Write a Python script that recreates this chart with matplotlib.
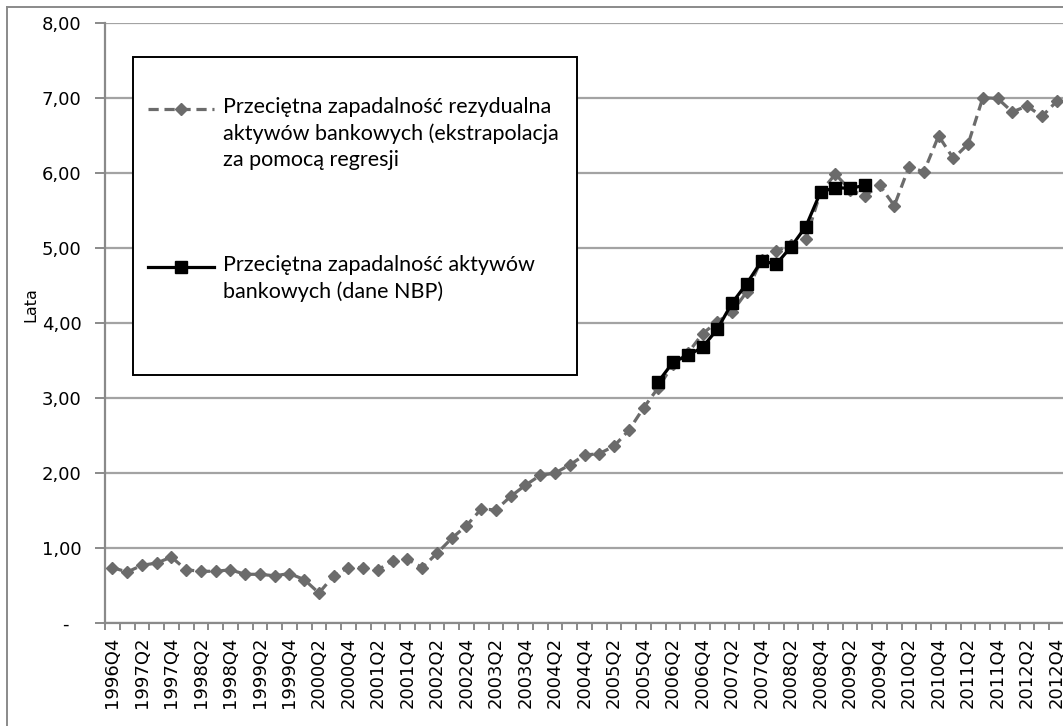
import matplotlib
matplotlib.use("Agg")
import matplotlib.pyplot as plt
from matplotlib.patches import Rectangle
from matplotlib.lines import Line2D
from matplotlib.ticker import FixedLocator, FuncFormatter
import numpy as np

# ---- data ----
start_year, start_q = 1996, 4
n_quarters = 65
quarters = []
y, q = start_year, start_q
for _ in range(n_quarters):
    quarters.append(f"{y}Q{q}")
    q += 1
    if q > 4:
        q = 1
        y += 1

extrapolated = [0.74, 0.68, 0.77, 0.80, 0.88, 0.71, 0.69, 0.69, 0.71, 0.65,
                0.65, 0.63, 0.66, 0.58, 0.40, 0.63, 0.74, 0.74, 0.71, 0.83,
                0.85, 0.74, 0.93, 1.13, 1.30, 1.52, 1.51, 1.69, 1.84, 1.97,
                2.00, 2.11, 2.24, 2.26, 2.36, 2.57, 2.87, 3.14, 3.45, 3.60,
                3.86, 4.02, 4.15, 4.42, 4.85, 4.97, 5.04, 5.12, 5.75, 5.99,
                5.78, 5.70, 5.84, 5.57, 6.09, 6.02, 6.50, 6.20, 6.39, 7.01,
                7.00, 6.82, 6.90, 6.76, 6.96]

nbp_start = "2006Q1"
nbp_values = [3.22, 3.48, 3.57, 3.68, 3.92, 4.27, 4.53, 4.83, 4.79, 5.02,
              5.29, 5.75, 5.81, 5.80, 5.84]

label1 = "Przeciętna zapadalność rezydualna\naktywów bankowych (ekstrapolacja\nza pomocą regresji"
label2 = "Przeciętna zapadalność aktywów\nbankowych (dane NBP)"
ylabel = "Lata"

# ---- figure ----
W, H = 1063, 726
fig = plt.figure(figsize=(W / 100, H / 100), dpi=100)

def fx(px):
    return px / W

def fy(py):
    return 1 - py / H

ax_left, ax_right, ax_top, ax_bottom = 105, 1064, 23.5, 623
ax = fig.add_axes([fx(ax_left), fy(ax_bottom), fx(ax_right - ax_left), (ax_bottom - ax_top) / H])

x = np.arange(len(quarters))
i0 = quarters.index(nbp_start)
x_nbp = np.arange(i0, i0 + len(nbp_values))

grey = "#6b6b6b"
ax.plot(x, extrapolated, color=grey, lw=2.3, linestyle=(0, (3.2, 1.8)),
        marker="D", markersize=6.5, markerfacecolor=grey, markeredgecolor=grey, zorder=3)
ax.plot(x_nbp, nbp_values, color="black", lw=2.3, linestyle="-",
        marker="s", markersize=8.5, markerfacecolor="black", markeredgecolor="black", zorder=4)

ax.set_xlim(-0.5, len(quarters) - 0.5)
ax.set_ylim(0, 8)

# grid
ax.yaxis.set_major_locator(FixedLocator(np.arange(0, 9, 1)))
ax.grid(axis="y", color="#a3a3a3", lw=1.6, zorder=0)
ax.set_axisbelow(True)

def yfmt(v, pos):
    if abs(v) < 1e-9:
        return "-  "
    return f"{v:.2f}".replace(".", ",")

ax.yaxis.set_major_formatter(FuncFormatter(yfmt))

# x ticks: labels every second quarter, tick marks between categories
ax.set_xticks(x[::2])
ax.set_xticklabels(quarters[::2], rotation=90, fontsize=13, family="DejaVu Sans")
ax.set_xticks(np.arange(-0.5, len(quarters), 1), minor=True)
ax.tick_params(axis="x", which="major", length=0, pad=10)
ax.tick_params(axis="x", which="minor", length=5, color="#8a8a8a", width=1.4)
ax.tick_params(axis="y", which="major", length=7, color="#8a8a8a", width=1.4,
               labelsize=13, pad=10)

for s in ["top", "right"]:
    ax.spines[s].set_visible(False)
for s in ["left", "bottom"]:
    ax.spines[s].set_color("#8a8a8a")
    ax.spines[s].set_linewidth(1.6)

ax.set_ylabel(ylabel, fontsize=11.5, family="DejaVu Sans")
ax.yaxis.set_label_coords((38 - ax_left) / (ax_right - ax_left), (ax_bottom - 305) / (ax_bottom - ax_top))

# outer chart frame (top + left visible)
fig.add_artist(Line2D([fx(7), 1.0], [fy(7), fy(7)], color="#8a8a8a", lw=1.4))
fig.add_artist(Line2D([fx(7), fx(7)], [fy(7), 0.0], color="#8a8a8a", lw=1.4))

# legend (manual box)
fig.add_artist(Rectangle((fx(133), fy(375)), fx(577 - 133), (375 - 57) / H,
                         facecolor="white", edgecolor="black", lw=1.4, zorder=10))
fig.add_artist(Line2D([fx(148), fx(214)], [fy(109), fy(109)], color=grey, lw=2.3,
                      linestyle=(0, (3.2, 1.8)), zorder=11))
fig.add_artist(Line2D([fx(181)], [fy(109)], color=grey, marker="D", markersize=6.5,
                      linestyle="none", zorder=12))
fig.add_artist(Line2D([fx(148), fx(214)], [fy(267), fy(267)], color="black", lw=2.3,
                      zorder=11))
fig.add_artist(Line2D([fx(181)], [fy(267)], color="black", marker="s", markersize=8.5,
                      linestyle="none", zorder=12))
fig.text(fx(223), fy(97), label1, fontsize=15.5, family="Lato", va="top",
         linespacing=1.38, zorder=12, transform=fig.transFigure)
fig.text(fx(223), fy(255), label2, fontsize=15.5, family="Lato", va="top",
         linespacing=1.38, zorder=12, transform=fig.transFigure)

fig.savefig("out.png", dpi=100)
